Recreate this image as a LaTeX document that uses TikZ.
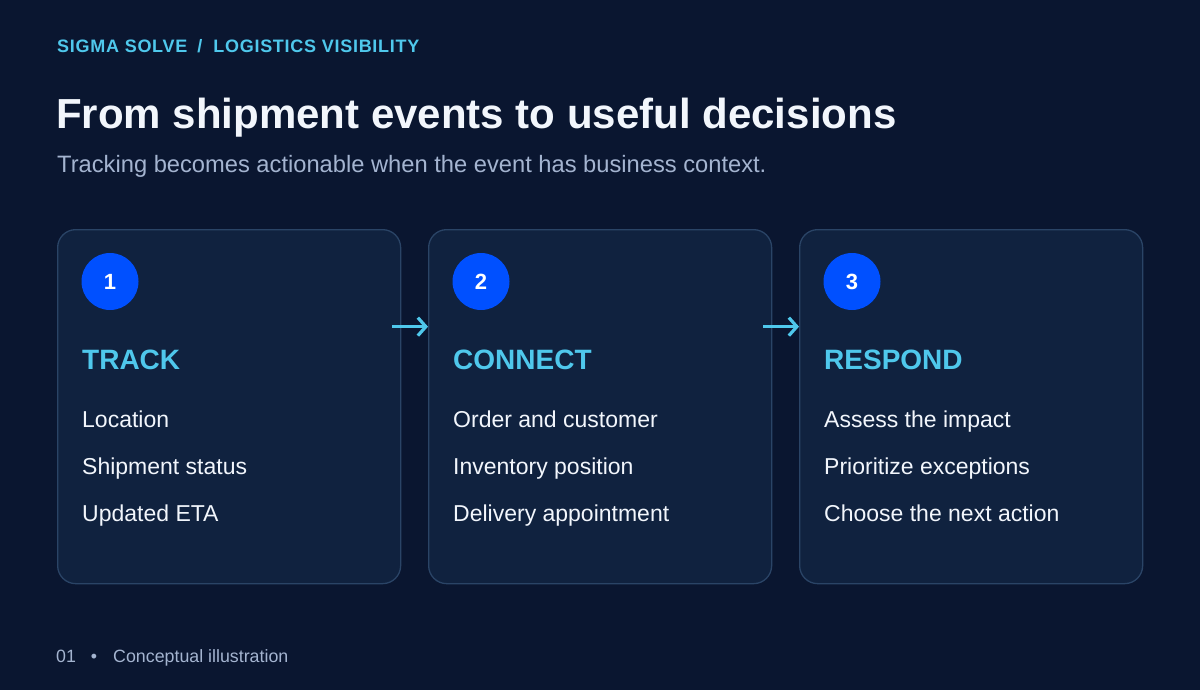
\documentclass[tikz,border=0pt]{standalone}
\usepackage{fontspec}
\setmainfont{Liberation Sans}
\newfontfamily\kickerfont[LetterSpace=4]{Liberation Sans}
\usetikzlibrary{arrows.meta, positioning, calc}
\definecolor{cbg}{HTML}{0A1630}
\definecolor{ccard}{HTML}{10223F}
\definecolor{cedge}{HTML}{2A4466}
\definecolor{ccyan}{HTML}{4FC8EC}
\definecolor{cblue}{HTML}{0050FF}
\definecolor{cwhite}{HTML}{F2F6FC}
\definecolor{cmuted}{HTML}{A4B4D0}
\tikzset{
  every picture/.style={x=1pt, y=-1pt},
  card/.style={draw=cedge, fill=ccard, line width=1.3pt, rounded corners=18pt, minimum width=343pt, minimum height=354pt, inner sep=0pt, anchor=north west},
  badge/.style={circle, fill=cblue, minimum size=57pt, inner sep=0pt, text=white, font=\fontsize{22}{24}\selectfont\bfseries},
  head/.style={anchor=base west, inner sep=0pt, text=ccyan, font=\fontsize{28}{32}\selectfont\bfseries},
  item/.style={anchor=base west, inner sep=0pt, text=cwhite, font=\fontsize{23}{27}\selectfont},
  flow/.style={-{Straight Barb[length=8pt, width=18pt]}, draw=ccyan, line width=3.2pt},
}
\begin{document}
\begin{tikzpicture}
  \fill[cbg] (0,0) rectangle (1200,690);
  % heading
  \node[anchor=base west, inner sep=0pt, text=ccyan, font=\kickerfont\fontsize{18}{20}\selectfont\bfseries] (kicker) at (57,53) {SIGMA SOLVE\hspace{10pt}/\hspace{11pt}LOGISTICS VISIBILITY};
  \node[anchor=base west, inner sep=0pt, text=cwhite, font=\fontsize{42}{46}\selectfont\bfseries] (title) at (56,129) {From shipment events to useful decisions};
  \node[anchor=base west, inner sep=0pt, text=cmuted, font=\fontsize{23.7}{27}\selectfont] (sub) at (57,172) {Tracking becomes actionable when the event has business context.};
  % cards
  \foreach \i/\x/\hd/\a/\b/\c in {1/57/TRACK/Location/Shipment status/Updated ETA,
    2/428/CONNECT/Order and customer/Inventory position/Delivery appointment,
    3/799/RESPOND/Assess the impact/Prioritize exceptions/Choose the next action}{
    \node[card] (card\i) at (\x,229) {};
    \node[badge] (num\i) at (\x+53,281.5) {\i};
    \node[head] (head\i) at (\x+25,369) {\hd};
    \node[item] (a\i) at (\x+25,427) {\a};
    \node[item] (b\i) at (\x+25,474) {\b};
    \node[item] (c\i) at (\x+25,521) {\c};
  }
  \draw[flow] ([xshift=-9pt, yshift=80pt]card1.east) -- ([yshift=80pt]card2.west);
  \draw[flow] ([xshift=-9pt, yshift=80pt]card2.east) -- ([yshift=80pt]card3.west);
  % footer
  \node[anchor=base west, inner sep=0pt, text=cmuted, font=\fontsize{17.8}{20}\selectfont] (foot) at (56,662) {01\hspace{15pt}•\hspace{16pt}Conceptual illustration};
\end{tikzpicture}
\end{document}
